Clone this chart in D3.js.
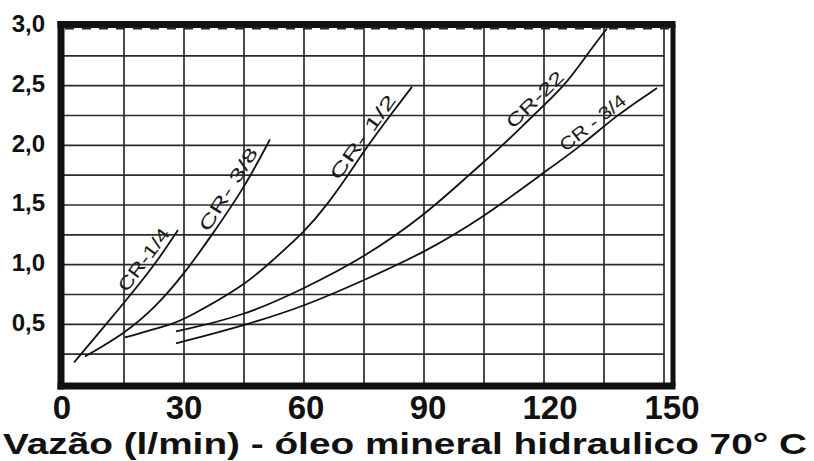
<!DOCTYPE html>
<html>
<head>
<meta charset="utf-8">
<script src="https://cdn.jsdelivr.net/npm/d3@7"></script>
<style>
  body { margin: 0; background: #fff; }
  svg { display: block; }
</style>
</head>
<body>
<svg class="plot" width="814" height="461"></svg>
<script>
// tick values and labels
var xTicks = [0, 30, 60, 90, 120, 150];
var yTicks = [0.5, 1.0, 1.5, 2.0, 2.5, 3.0];
var yTickLabels = ["0,5", "1,0", "1,5", "2,0", "2,5", "3,0"];
var gridX = [15, 30, 45, 60, 75, 90, 105, 120, 135, 150];
var gridY = [0.25, 0.5, 0.75, 1.0, 1.25, 1.5, 1.75, 2.0, 2.25, 2.5, 2.75];

// curves: flow (l/min) vs pressure drop
var cr14X = [2.5, 10.5, 15.25, 22.75, 28.5];
var cr14Y = [0.18, 0.5, 0.69, 1.0, 1.29];
var cr38X = [5.25, 15, 22.5, 30, 37, 45, 51.5];
var cr38Y = [0.23, 0.42, 0.63, 0.92, 1.25, 1.64, 2.05];
var cr12X = [15.25, 27, 30, 45, 52.25, 60, 65.75, 71, 76, 81.5, 87];
var cr12Y = [0.39, 0.5, 0.54, 0.82, 1.04, 1.27, 1.5, 1.75, 2.0, 2.25, 2.49];
var cr22X = [28, 45, 60, 75, 90, 101.5, 109.75, 117.25, 125.25, 130.5, 135.75];
var cr22Y = [0.44, 0.57, 0.80, 1.06, 1.41, 1.76, 2.0, 2.25, 2.5, 2.75, 2.98];
var cr34X = [28, 45, 60, 75, 90, 105, 119, 129.5, 138, 148.25];
var cr34Y = [0.34, 0.49, 0.65, 0.87, 1.10, 1.40, 1.75, 2.0, 2.25, 2.48];

// curve labels and the stretch of flow they run along
var labelNames = ["CR-1/4", "CR- 3/8", "CR- 1/2", "CR-22", "CR - 3/4"];
var labelFrom = [16.5, 37, 69.5, 113, 126];
var labelTo = [27.5, 49.5, 84, 126, 141.5];

var xTitle = "Vazão (l/min) - óleo mineral hidraulico 70° C";

var series = [
  {xs: cr14X, ys: cr14Y},
  {xs: cr38X, ys: cr38Y},
  {xs: cr12X, ys: cr12Y},
  {xs: cr22X, ys: cr22Y},
  {xs: cr34X, ys: cr34Y}
];

var svg = d3.select(".plot");

var x = d3.scaleLinear().domain([0, 150]).range([64, 664]),
    y = d3.scaleLinear().domain([0, 3]).range([384, 26]);
// the printed tick numbers drift a little to the right of their lines
var xl = d3.scaleLinear().domain([0, 150]).range([62, 672]);

var g = svg.append("g");

// grid
g.selectAll(".gx").data(gridX).enter().append("line")
    .attr("class", "gx")
    .attr("x1", function(d) { return x(d); })
    .attr("x2", function(d) { return x(d); })
    .attr("y1", y(3))
    .attr("y2", y(0))
    .attr("stroke", "#2b2b2b")
    .attr("stroke-width", 1.7);

g.selectAll(".gy").data(gridY).enter().append("line")
    .attr("class", "gy")
    .attr("x1", x(0))
    .attr("x2", x(150))
    .attr("y1", function(d) { return y(d); })
    .attr("y2", function(d) { return y(d); })
    .attr("stroke", "#2b2b2b")
    .attr("stroke-width", 1.7);

// heavy frame
var frameL = x(0) - 3, frameR = x(150) + 9, frameT = y(3) - 1.5, frameB = y(0) + 2;
g.append("line").attr("x1", frameL).attr("x2", frameL).attr("y1", frameT - 3.5).attr("y2", frameB + 3.5)
    .attr("stroke", "#111").attr("stroke-width", 7);
g.append("line").attr("x1", frameL - 3.5).attr("x2", frameR + 2.5).attr("y1", frameT).attr("y2", frameT)
    .attr("stroke", "#111").attr("stroke-width", 7);
g.append("line").attr("x1", frameL - 3.5).attr("x2", frameR + 2.5).attr("y1", frameB).attr("y2", frameB)
    .attr("stroke", "#111").attr("stroke-width", 7);
g.append("line").attr("x1", frameR).attr("x2", frameR).attr("y1", frameT).attr("y2", frameB)
    .attr("stroke", "#111").attr("stroke-width", 5);
// ragged underside of the top edge
g.append("line").attr("x1", frameL + 4).attr("x2", frameR - 2).attr("y1", frameT + 3.8).attr("y2", frameT + 3.8)
    .attr("stroke", "#222").attr("stroke-width", 2.5).attr("stroke-dasharray", "9,8");

// curves
var line = d3.line()
    .x(function(d) { return x(d[0]); })
    .y(function(d) { return y(d[1]); })
    .curve(d3.curveBasis);

g.selectAll(".curve").data(series).enter().append("path")
    .attr("class", "curve")
    .attr("d", function(s) { return line(s.xs.map(function(v, i) { return [v, s.ys[i]]; })); })
    .attr("fill", "none")
    .attr("stroke", "#111")
    .attr("stroke-width", 1.8);

// value on a curve at a given flow (for label placement)
function at(s, v) {
  var i = d3.bisectRight(s.xs, v) - 1;
  i = Math.max(0, Math.min(s.xs.length - 2, i));
  var t = (v - s.xs[i]) / (s.xs[i + 1] - s.xs[i]);
  return s.ys[i] + t * (s.ys[i + 1] - s.ys[i]);
}

labelNames.forEach(function(name, k) {
  var s = series[k];
  var x0 = x(labelFrom[k]), y0 = y(at(s, labelFrom[k])),
      x1 = x(labelTo[k]), y1 = y(at(s, labelTo[k]));
  var dx = x1 - x0, dy = y1 - y0, len = Math.sqrt(dx * dx + dy * dy);
  var ux = dx / len, uy = dy / len;
  var ox = x0 + 4 * uy, oy = y0 - 4 * ux;
  g.append("text")
      .attr("transform", "translate(" + ox + "," + oy + ") rotate(" + (Math.atan2(dy, dx) * 180 / Math.PI) + ")")
      .attr("font-family", "Liberation Sans, Arial, sans-serif")
      .attr("font-size", 18)
      .attr("fill", "#1a1a1a")
      .attr("textLength", len)
      .attr("lengthAdjust", "spacingAndGlyphs")
      .text(name);
});

// y tick labels
g.selectAll(".ylab").data(yTicks).enter().append("text")
    .attr("class", "ylab")
    .attr("x", 45)
    .attr("y", function(d) { return y(d) - 2; })
    .attr("dy", "0.35em")
    .attr("text-anchor", "end")
    .attr("font-family", "Liberation Sans, Arial, sans-serif")
    .attr("font-weight", "bold")
    .attr("font-size", 24)
    .attr("fill", "#111")
    .text(function(d, i) { return yTickLabels[i]; });

// x tick labels
g.selectAll(".xlab").data(xTicks).enter().append("text")
    .attr("class", "xlab")
    .attr("x", function(d) { return xl(d); })
    .attr("y", 419)
    .attr("text-anchor", "middle")
    .attr("font-family", "Liberation Sans, Arial, sans-serif")
    .attr("font-weight", "bold")
    .attr("font-size", 33)
    .attr("fill", "#111")
    .text(function(d) { return d; });

// axis title
g.append("text")
    .attr("x", 3)
    .attr("y", 454)
    .attr("font-family", "Liberation Sans, Arial, sans-serif")
    .attr("font-weight", "bold")
    .attr("font-size", 30)
    .attr("fill", "#111")
    .attr("textLength", 804)
    .attr("lengthAdjust", "spacingAndGlyphs")
    .text(xTitle);
</script>
</body>
</html>
